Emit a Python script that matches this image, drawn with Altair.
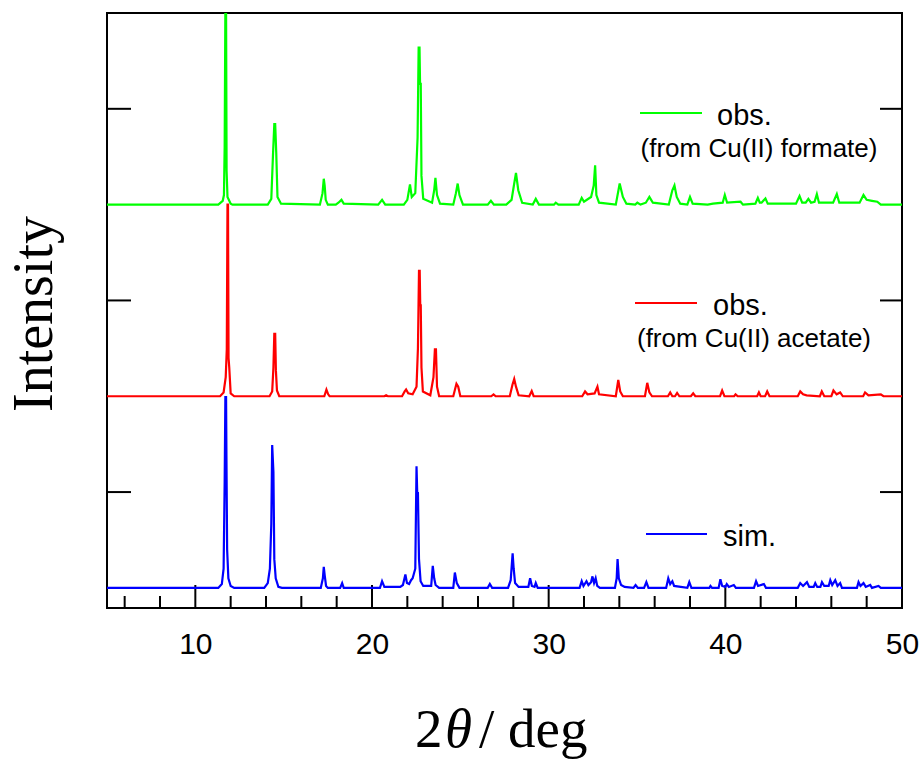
import altair as alt
import pandas as pd

# ---------------- data ----------------
x_labels = [10, 20, 30, 40, 50]
major_ticks = [10, 20, 30, 40]
minor_ticks = [6, 8, 12, 14, 16, 18, 22, 24, 26, 28, 32, 34, 36, 38, 42, 44, 46, 48]
y_ticks = [1, 3, 5]

series_names = ["sim.", "obs. (acetate)", "obs. (formate)"]
series_colors = ["#0000FF", "#FF0000", "#00FF00"]
series_offsets = [0, 2, 4]

# (2theta, intensity above the trace's own baseline)
sim_pts = [
    (5, 0), (11.3, 0), (11.5, 0.04), (11.6, 0.2), (11.66, 1.1), (11.7, 1.99), (11.74, 1.99),
    (11.76, 1.39), (11.8, 0.4), (11.87, 0.1), (12.0, 0.02), (12.2, 0),
    (13.9, 0), (14.1, 0.05), (14.22, 0.2), (14.3, 0.67), (14.35, 1.49), (14.42, 1.21),
    (14.47, 0.3), (14.55, 0.1), (14.7, 0.01), (14.9, 0),
    (17.1, 0), (17.22, 0.1), (17.27, 0.22), (17.33, 0.12), (17.4, 0.02), (17.5, 0),
    (18.2, 0), (18.31, 0.05), (18.4, 0), (20.45, 0), (20.57, 0.07), (20.7, 0.01),
    (21.6, 0.01), (21.75, 0.03), (21.89, 0.14), (21.98, 0.05), (22.1, 0.04), (22.21, 0.08),
    (22.3, 0.1), (22.45, 0.2), (22.52, 1.27), (22.56, 0.99), (22.6, 0.99), (22.66, 0.3),
    (22.75, 0.07), (22.9, 0.02), (23.35, 0.02), (23.44, 0.23), (23.52, 0.1), (23.6, 0.03),
    (23.8, 0), (24.6, 0), (24.69, 0.16), (24.8, 0.05), (24.95, 0),
    (26.55, 0), (26.67, 0.04), (26.8, 0), (27.7, 0), (27.85, 0.08), (27.96, 0.36),
    (28.02, 0.2), (28.1, 0.05), (28.3, 0.01), (28.85, 0.01), (28.95, 0.1), (29.05, 0.02),
    (29.2, 0.01), (29.27, 0.05), (29.38, 0),
    (31.75, 0), (31.87, 0.07), (31.97, 0.02), (32.14, 0.07), (32.25, 0.03), (32.4, 0.06),
    (32.48, 0.12), (32.57, 0.05), (32.66, 0.1), (32.75, 0.02), (32.9, 0),
    (33.75, 0), (33.85, 0.1), (33.9, 0.3), (33.97, 0.1), (34.1, 0.03), (34.3, 0.01),
    (34.8, 0), (34.92, 0.03), (35.05, 0), (35.4, 0), (35.53, 0.06), (35.65, 0),
    (36.65, 0), (36.77, 0.1), (36.88, 0.04), (37.0, 0.07), (37.1, 0.02),
    (37.85, 0), (37.96, 0.06), (38.08, 0), (39.1, 0), (39.16, 0.02), (39.25, 0),
    (39.62, 0), (39.72, 0.09), (39.82, 0.02), (40.0, 0.01), (40.08, 0.04), (40.2, 0.01),
    (40.48, 0.03), (40.6, 0), (41.62, 0), (41.74, 0.07), (41.85, 0.02), (42.18, 0.04),
    (42.3, 0), (44.1, 0), (44.24, 0.05), (44.4, 0.02), (44.62, 0.06), (44.75, 0.01),
    (45.0, 0.01), (45.09, 0.05), (45.2, 0.01), (45.38, 0.01), (45.47, 0.06), (45.6, 0.02),
    (45.85, 0.02), (45.94, 0.08), (46.05, 0.03), (46.22, 0.08), (46.35, 0.02), (46.5, 0.05),
    (46.6, 0), (47.45, 0), (47.54, 0.06), (47.65, 0.02), (47.82, 0.05), (47.95, 0.01),
    (48.2, 0.03), (48.3, 0), (48.67, 0.02), (48.8, 0), (50, 0),
]

acetate_pts = [
    (5, 0), (11.4, 0), (11.6, 0.04), (11.72, 0.2), (11.78, 0.49), (11.82, 2.0), (11.85, 2.0),
    (11.88, 0.4), (11.92, 0.3), (12.0, 0.03), (12.2, 0),
    (14.2, 0), (14.35, 0.05), (14.42, 0.3), (14.47, 0.65), (14.52, 0.65), (14.56, 0.27),
    (14.62, 0.06), (14.75, 0), (17.3, 0), (17.42, 0.07), (17.52, 0.02), (17.6, 0),
    (20.7, 0), (20.8, 0.01), (20.9, 0), (21.7, 0), (21.85, 0.05), (21.93, 0.07), (22.05, 0.03),
    (22.3, 0.02), (22.52, 0.1), (22.6, 0.5), (22.66, 1.31), (22.7, 1.31), (22.73, 0.95),
    (22.76, 0.95), (22.8, 0.3), (22.88, 0.05), (23.3, 0.01), (23.48, 0.2), (23.56, 0.49),
    (23.62, 0.49), (23.68, 0.1), (23.8, 0),
    (24.6, 0), (24.78, 0.13), (24.88, 0.1), (25.0, 0), (26.75, 0), (26.88, 0.02), (27.0, 0),
    (27.8, 0), (27.95, 0.12), (28.05, 0.18), (28.15, 0.1), (28.3, 0.01), (28.9, 0),
    (29.04, 0.055), (29.15, 0), (31.9, 0), (32.06, 0.05), (32.2, 0.02), (32.6, 0.03),
    (32.76, 0.1), (32.85, 0.02), (33.8, 0), (33.94, 0.17), (34.05, 0.05), (34.2, 0),
    (35.45, 0), (35.58, 0.14), (35.7, 0.04), (35.85, 0), (36.75, 0), (36.88, 0.04), (37.0, 0),
    (37.15, 0), (37.27, 0.035), (37.4, 0), (38.05, 0), (38.18, 0.03), (38.3, 0),
    (39.7, 0), (39.82, 0.06), (39.95, 0), (40.5, 0), (40.58, 0.02), (40.7, 0),
    (41.8, 0), (41.9, 0.04), (42.0, 0), (42.25, 0), (42.37, 0.05), (42.5, 0),
    (44.1, 0), (44.24, 0.05), (44.4, 0.02), (44.6, 0.01), (45.35, 0), (45.46, 0.05), (45.6, 0),
    (46.0, 0), (46.12, 0.06), (46.3, 0.02), (46.5, 0.04), (46.65, 0), (47.8, 0), (47.91, 0.04),
    (48.1, 0.01), (48.8, 0.02), (48.95, 0), (50, 0),
]

formate_pts = [
    (5, 0), (11.3, 0), (11.55, 0.04), (11.62, 0.1), (11.66, 0.6), (11.7, 2.05), (11.74, 2.05),
    (11.77, 0.35), (11.82, 0.08), (12.0, 0.01), (12.1, 0),
    (14.1, 0), (14.3, 0.06), (14.4, 0.54), (14.47, 0.84), (14.52, 0.84), (14.58, 0.54),
    (14.65, 0.08), (14.85, 0.01), (17.05, 0), (17.2, 0.12), (17.27, 0.27), (17.32, 0.2),
    (17.38, 0.05), (17.5, 0), (17.95, 0), (18.1, 0.02), (18.27, 0.05), (18.4, 0.01),
    (20.35, 0), (20.57, 0.05), (20.75, 0), (21.8, 0), (22.0, 0.05), (22.15, 0.21), (22.25, 0.08),
    (22.45, 0.12), (22.58, 0.7), (22.64, 1.64), (22.69, 1.64), (22.72, 1.26), (22.76, 1.26),
    (22.8, 0.3), (22.9, 0.06), (23.4, 0.02), (23.52, 0.15), (23.59, 0.28), (23.68, 0.1),
    (23.85, 0.01), (24.6, 0), (24.75, 0.12), (24.85, 0.22), (24.95, 0.1), (25.15, 0),
    (26.55, 0), (26.73, 0.04), (26.9, 0), (27.6, 0), (27.9, 0.05), (28.05, 0.22), (28.15, 0.33),
    (28.28, 0.15), (28.5, 0.02), (29.1, 0), (29.27, 0.06), (29.45, 0), (30.3, 0), (30.4, 0.02),
    (30.55, 0), (31.7, 0), (31.87, 0.07), (32.0, 0.03), (32.4, 0.08), (32.55, 0.2), (32.63, 0.41),
    (32.7, 0.1), (32.85, 0.02), (33.8, 0), (33.95, 0.15), (34.02, 0.22), (34.2, 0.08),
    (34.4, 0.01), (34.9, 0), (35.02, 0.02), (35.2, 0), (35.5, 0.02), (35.7, 0.08), (35.8, 0.05),
    (35.9, 0.02), (36.8, 0), (37.0, 0.15), (37.12, 0.2), (37.25, 0.08), (37.45, 0.01),
    (37.85, 0), (38.0, 0.08), (38.15, 0.01), (39.0, 0), (39.3, 0.01), (39.85, 0.02),
    (39.97, 0.1), (40.1, 0.02), (40.86, 0.03), (41.0, 0), (41.7, 0.01), (41.84, 0.07),
    (41.95, 0.02), (42.05, 0.02), (42.27, 0.065), (42.4, 0.01), (44.0, 0.01), (44.2, 0.09),
    (44.35, 0.02), (44.55, 0.02), (44.7, 0.06), (44.85, 0.02), (45.05, 0.03), (45.18, 0.11),
    (45.3, 0.02), (46.1, 0.02), (46.31, 0.11), (46.45, 0.02), (47.6, 0.02), (47.82, 0.1),
    (48.0, 0.05), (48.3, 0.04), (48.6, 0.03), (48.8, 0), (50, 0),
]

# ---------------- build tables ----------------
rows = []
for name, off, pts in zip(series_names, series_offsets, [sim_pts, acetate_pts, formate_pts]):
    for i, (xv, yv) in enumerate(pts):
        rows.append({"s": name, "i": i, "x": xv, "y": yv + off})
lines_df = pd.DataFrame(rows)

W, H = 795, 595
xscale = alt.Scale(domain=[5, 50], nice=False, zero=False)
yscale = alt.Scale(domain=[-0.21, 6.0], nice=False, zero=False)
xaxis = alt.Axis(values=x_labels, ticks=False, tickSize=0, domain=False, grid=False,
                 title=None, labelFont="Liberation Sans", labelFontSize=30,
                 labelColor="black", labelPadding=21, labelFlush=False,
                 labelOverlap=False, format="d")

lines = alt.Chart(lines_df).mark_line(strokeWidth=2.2, clip=True).encode(
    x=alt.X("x:Q", scale=xscale, axis=xaxis),
    y=alt.Y("y:Q", scale=yscale, axis=None),
    color=alt.Color("s:N", scale=alt.Scale(domain=series_names, range=series_colors), legend=None),
    detail="s:N",
    order="i:Q",
)

minor = alt.Chart(pd.DataFrame({"v": minor_ticks})).mark_rule(color="black", strokeWidth=2).encode(
    x=alt.X("v:Q", scale=xscale, axis=xaxis), y=alt.value(H), y2=alt.value(H - 12))
major = alt.Chart(pd.DataFrame({"v": major_ticks})).mark_rule(color="black", strokeWidth=2).encode(
    x=alt.X("v:Q", scale=xscale, axis=xaxis), y=alt.value(H), y2=alt.value(H - 23))
yl = alt.Chart(pd.DataFrame({"v": y_ticks})).mark_rule(color="black", strokeWidth=2).encode(
    y=alt.Y("v:Q", scale=yscale, axis=None), x=alt.value(0), x2=alt.value(24))
yr = alt.Chart(pd.DataFrame({"v": y_ticks})).mark_rule(color="black", strokeWidth=2).encode(
    y=alt.Y("v:Q", scale=yscale, axis=None), x=alt.value(W - 22), x2=alt.value(W))


def txt(s, x, y, size, font="Liberation Sans", align="left", angle=0, style="normal"):
    return alt.Chart(pd.DataFrame({"t": [s]})).mark_text(
        align=align, baseline="alphabetic", fontSize=size, font=font, angle=angle,
        fontStyle=style, color="black").encode(x=alt.value(x), y=alt.value(y), text="t:N")


def seg(color, x1, x2, y):
    return alt.Chart(pd.DataFrame({"c": [0]})).mark_rule(color=color, strokeWidth=2).encode(
        x=alt.value(x1), x2=alt.value(x2), y=alt.value(y))


annots = [
    seg("#00FF00", 533, 595, 100),
    txt("obs.", 610, 112, 29),
    txt("(from Cu(II) formate)", 652, 144, 26, align="center"),
    seg("#FF0000", 528, 590, 290),
    txt("obs.", 606, 302, 29),
    txt("(from Cu(II) acetate)", 647, 334, 26, align="center"),
    seg("#0000FF", 539, 600, 521),
    txt("sim.", 616, 533, 29),
    txt("Intensity", -55, 301, 56, font="Liberation Serif", align="center", angle=270),
    txt("2", 308, 734, 55, font="Liberation Serif"),
    txt("θ", 338, 734, 55, font="Liberation Serif", style="italic"),
    txt("/ deg", 372, 734, 55, font="Liberation Serif"),
]

chart = alt.layer(minor, major, yl, yr, lines, *annots).properties(
    width=W, height=H,
    autosize=alt.AutoSizeParams(type="none"),
    padding={"left": 107, "top": 13, "right": 22, "bottom": 152},
    background="white",
).configure_view(stroke="black", strokeWidth=2)

chart.save("out.html", embed_options={"renderer": "svg", "actions": False})
